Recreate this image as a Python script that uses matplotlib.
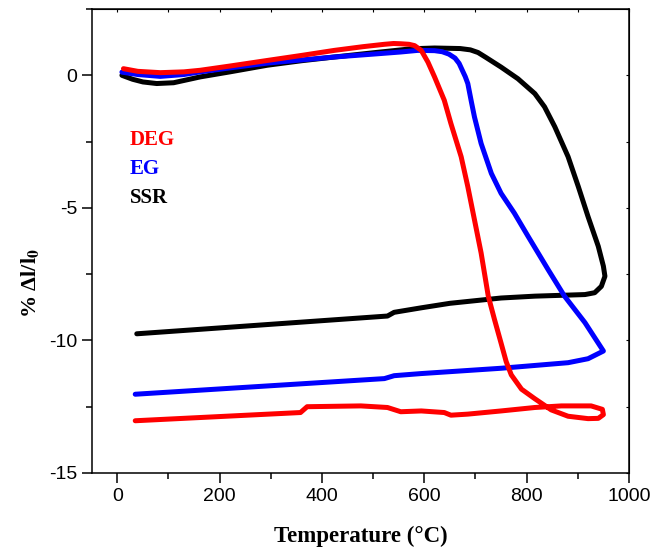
import matplotlib
matplotlib.use("Agg")
import matplotlib.pyplot as plt
from matplotlib.ticker import MultipleLocator

plt.rcParams['font.family'] = ['Liberation Sans', 'DejaVu Sans']
plt.rcParams['mathtext.fontset'] = 'stix'
plt.rcParams['axes.unicode_minus'] = False

# DEG (red): heating then cooling
deg_t = [12, 40, 84, 130, 162, 220, 293, 360, 424, 480, 522, 540, 554, 570, 581,
         594, 607, 620, 639, 652, 672, 685, 698, 711, 725, 737, 750, 760, 770,
         790, 816, 829, 848, 881, 920, 940, 950, 948, 926, 868, 816, 750, 685,
         652, 639, 594, 554, 528, 476, 371, 358, 35]
deg_d = [0.25, 0.15, 0.10, 0.13, 0.19, 0.35, 0.56, 0.75, 0.94, 1.08, 1.17, 1.20,
         1.19, 1.17, 1.12, 0.94, 0.50, -0.06, -0.94, -1.82, -3.07, -4.20, -5.45,
         -6.70, -8.33, -9.20, -10.10, -10.80, -11.30, -11.84, -12.20, -12.37,
         -12.62, -12.86, -12.95, -12.94, -12.80, -12.60, -12.47, -12.47, -12.53,
         -12.66, -12.78, -12.82, -12.72, -12.66, -12.69, -12.53, -12.47, -12.50,
         -12.72, -13.03]

# EG (blue)
eg_t = [9, 40, 84, 130, 162, 220, 293, 360, 424, 500, 554, 587, 620, 635, 648,
        660, 668, 674, 680, 685, 692, 698, 711, 731, 750, 776, 803, 842, 874,
        914, 950, 920, 881, 750, 594, 541, 522, 35]
eg_d = [0.12, 0.03, -0.04, 0.03, 0.13, 0.28, 0.46, 0.58, 0.69, 0.80, 0.88, 0.94,
        0.93, 0.89, 0.80, 0.65, 0.45, 0.20, -0.05, -0.31, -1.00, -1.57, -2.57,
        -3.70, -4.45, -5.20, -6.08, -7.33, -8.33, -9.33, -10.40, -10.69, -10.84,
        -11.05, -11.25, -11.33, -11.44, -12.03]

# SSR (black)
ssr_t = [9, 30, 50, 77, 110, 162, 220, 293, 360, 424, 500, 540, 574, 620, 670,
         690, 705, 720, 750, 783, 816, 835, 855, 881, 901, 920, 940, 950, 953,
         946, 933, 914, 816, 750, 650, 594, 541, 528, 38]
ssr_d = [0.0, -0.15, -0.25, -0.31, -0.28, -0.06, 0.13, 0.38, 0.55, 0.69, 0.85,
         0.93, 1.0, 1.03, 1.01, 0.96, 0.86, 0.68, 0.31, -0.13, -0.69, -1.19,
         -1.94, -3.07, -4.20, -5.33, -6.45, -7.20, -7.58, -7.96, -8.20, -8.27,
         -8.33, -8.40, -8.60, -8.77, -8.94, -9.08, -9.75]

fig = plt.figure(figsize=(6.6, 5.51), dpi=100)
ax = fig.add_axes([0.139, 0.1416, 0.814, 0.842])

lw = 3.6
ax.plot(ssr_t, ssr_d, color='black', lw=lw, solid_capstyle='round', solid_joinstyle='round')
ax.plot(eg_t, eg_d, color='blue', lw=lw, solid_capstyle='round', solid_joinstyle='round')
ax.plot(deg_t, deg_d, color='red', lw=lw, solid_capstyle='round', solid_joinstyle='round')

ax.set_xlim(-50, 1000)
ax.set_ylim(-15, 2.5)
ax.xaxis.set_major_locator(MultipleLocator(200))
ax.xaxis.set_minor_locator(MultipleLocator(100))
ax.yaxis.set_major_locator(MultipleLocator(5))
ax.yaxis.set_minor_locator(MultipleLocator(2.5))

ax.tick_params(which='major', direction='out', length=7, width=1.1,
               labelsize=14, top=False, right=False)
ax.tick_params(which='minor', direction='out', length=4, width=1.1,
               top=False, right=False)
for sp in ax.spines.values():
    sp.set_linewidth(1.1)

# inward ticks on top and right
sec_x = ax.secondary_xaxis('top')
sec_x.xaxis.set_major_locator(MultipleLocator(100))
sec_x.tick_params(direction='in', length=2.5, width=0.8, labeltop=False)
sec_y = ax.secondary_yaxis('right')
sec_y.yaxis.set_major_locator(MultipleLocator(2.5))
sec_y.tick_params(direction='in', length=2.5, width=0.8, labelright=False)

ax.set_xlabel('Temperature (°C)', family='Liberation Serif', fontweight='bold',
              fontsize=16.5, labelpad=15)
ax.set_ylabel(r'% Δl/l$_\mathbf{0}$', family='Liberation Serif', fontweight='bold',
              fontsize=16)
ax.yaxis.set_label_coords(-0.094, 0.41)

labels = ['DEG', 'EG', 'SSR']
colors = ['red', 'blue', 'black']
label_y = [-2.44, -3.53, -4.62]
for txt, c, yy in zip(labels, colors, label_y):
    ax.text(25, yy, txt, color=c, family='Liberation Serif', fontweight='bold',
            fontsize=15, va='center', ha='left')

fig.savefig('out.png', dpi=100)
